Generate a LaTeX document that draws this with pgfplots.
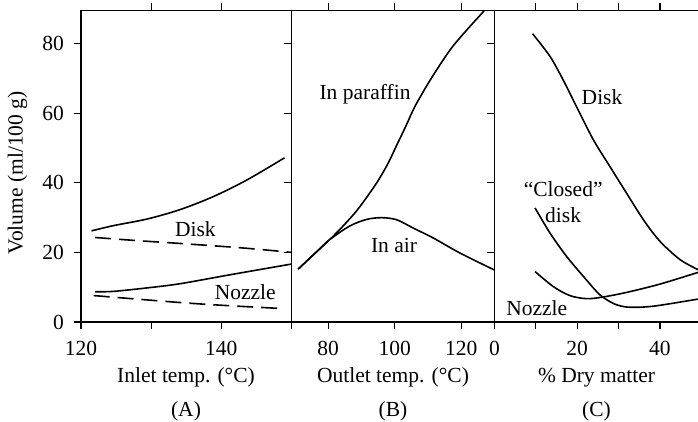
\documentclass[border=0pt]{standalone}
\usepackage{fontspec}
\setmainfont{Liberation Serif}
\usepackage{pgfplots}
\pgfplotsset{compat=1.18}
\begin{document}
\begin{tikzpicture}[font=\fontsize{21.5}{25}\selectfont, x=1pt, y=1pt]
\path[use as bounding box] (0,0) rectangle (698,422);
\pgfplotsset{
 curve/.style={black, line width=1.6pt, smooth, no marks},
 panel/.style={
  scale only axis, height=311.6pt, ymin=0, ymax=89.6,
  anchor=south west,
  ytick={0,20,40,60,80},
  tick align=outside,
  major tick length=7.5pt,
  ytick pos=left,
  axis line style={line width=1.2pt},
  every tick/.style={black, line width=1.2pt},
  tick label style={font=\fontsize{21.5}{25}\selectfont},
  xticklabel style={yshift=-8pt},
  yticklabel style={xshift=-6pt},
 },
}
% ---------- Panel A ----------
\begin{axis}[panel, at={(81pt,100pt)}, width=210.5pt,
  xmin=120, xmax=150, xtick={130,140}, xticklabels={,140},
  extra x ticks={120,150}, extra x tick labels={120,},
  extra x tick style={xtick pos=bottom},
  yticklabels={0,20,40,60,80}]
\addplot[curve] coordinates {(121.5,26.2) (124.6,27.7) (129.4,29.6) (134.1,32.3) (138.9,36.1) (143.7,40.9) (149.0,47.2)};
\addplot[curve, dash pattern=on 16pt off 8pt] coordinates {(122.0,24.3) (128,23.4) (134,22.6) (143,21.3) (150.1,20.0)};
\addplot[curve] coordinates {(122.0,8.7) (124.6,8.8) (129.4,9.8) (134.1,11.0) (141.3,13.6) (150.1,16.7)};
\addplot[curve, dash pattern=on 16pt off 8pt] coordinates {(121.8,7.6) (134.1,5.6) (141,4.7) (148.4,3.9)};
\node at (axis cs:136.3,26.7) {Disk};
\node at (axis cs:143.4,8.5) {Nozzle};
\end{axis}
% ---------- Panel B ----------
\begin{axis}[panel, at={(291.5pt,100pt)}, width=203pt,
  xmin=69, xmax=130, xtick={80,100,120}, xticklabels={80,100,120},
  yticklabels={}]
\addplot[curve] coordinates {(71.0,15.2) (76,19.7) (80.5,23.7) (84.5,27.6) (88.6,32.0) (92.0,36.4) (95.0,40.6) (98.0,45.6) (101.0,51.6) (103.5,56.6) (106.1,62.0) (110.7,69.6) (116.7,78.3) (121.7,84.0) (126.7,89.3) (127.5,90.5)};
\addplot[curve] coordinates {(71.0,15.2) (76,19.7) (80.5,23.7) (86.5,27.6) (91.6,29.5) (96.1,30.0) (100.6,29.4) (105.6,27.0) (111.7,24.1) (118.7,20.3) (124.7,17.4) (130.3,14.8)};
\node at (axis cs:91.1,65.6) {In paraffin};
\node at (axis cs:99.8,22.0) {In air};
\end{axis}
% ---------- Panel C ----------
\begin{axis}[panel, at={(494.5pt,100pt)}, width=203.5pt,
  axis x line*=box, axis y line*=left,
  xmin=0, xmax=49.2, xtick={10,20,30,40}, xticklabels={,20,,40},
  extra x ticks={0}, extra x tick labels={0},
  extra x tick style={xtick pos=bottom},
  yticklabels={}]
\addplot[curve] coordinates {(9.2,82.9) (13.4,76.4) (16.6,69.6) (19.8,62.0) (23.9,52.4) (27.9,44.7) (31.9,37.1) (36.0,29.4) (40.0,23.2) (44.9,17.9) (49.3,15.0)};
\addplot[curve] coordinates {(9.8,32.8) (13.4,25.6) (17.4,18.9) (21.5,13.1) (25.5,7.8) (29.0,5.2) (32.0,4.3) (36.0,4.3) (40.0,4.8) (49.3,6.6)};
\addplot[curve] coordinates {(9.8,14.5) (14.2,10.2) (18.2,7.6) (22.3,6.7) (26.3,7.2) (31.9,8.5) (40.0,10.9) (49.3,14.3)};
\node at (axis cs:26.0,64.6) {Disk};
\node at (axis cs:16.6,38.2) {“Closed”};
\node at (axis cs:16.6,30.8) {disk};
\node at (axis cs:10.2,4.0) {Nozzle};
\end{axis}
% ---------- labels ----------
\node[rotate=90, anchor=base] at (22.7,249) {Volume (ml/100 g)};
\node[anchor=base] at (186,39) {Inlet temp. (°C)};
\node[anchor=base] at (186,5) {(A)};
\node[anchor=base] at (393,39) {Outlet temp. (°C)};
\node[anchor=base] at (393,5) {(B)};
\node[anchor=base] at (596.5,39) {\% Dry matter};
\node[anchor=base] at (596.5,5) {(C)};
\end{tikzpicture}
\end{document}
